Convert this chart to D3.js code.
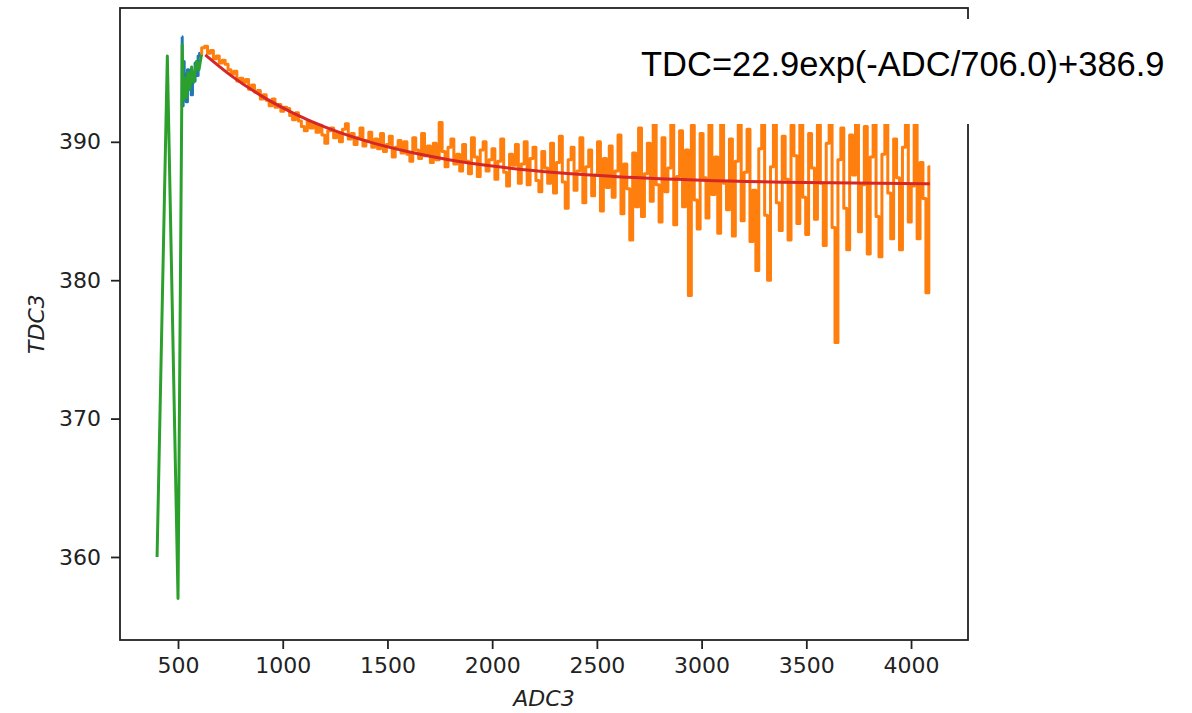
<!DOCTYPE html>
<html>
<head>
<meta charset="utf-8">
<script src="https://cdn.jsdelivr.net/npm/d3@7"></script>
<style>
  body { margin: 0; background: #fff; }
  svg { display: block; }
</style>
</head>
<body>
<svg id="chart"></svg>
<script>
// tick labels
const xTicks = [500, 1000, 1500, 2000, 2500, 3000, 3500, 4000];
const yTicks = [360, 370, 380, 390];

// green series (coarse profile at low ADC)
const greenAdc = [400, 449, 500, 520, 525, 533, 540, 548, 556, 565, 575, 588, 600, 612];
const greenTdc = [360.0, 396.2, 357.0, 397.0, 393.0, 394.6, 393.2, 395.0, 393.8, 395.4, 394.3, 395.8, 395.2, 396.3];

// blue series (short piece under the green one)
const blueAdc = [518, 522, 527, 532, 537, 542, 548, 554, 560, 566, 572, 578, 585, 592, 600, 606];
const blueTdc = [397.6, 392.6, 395.8, 393.0, 394.9, 392.9, 395.2, 393.8, 395.1, 393.4, 395.0, 394.4, 395.7, 394.8, 396.2, 396.4];

// orange series: mean TDC per ADC bin, bins start at 606, width 14
const orangeStart = 606, orangeStep = 14;
const orangeTdc = [
  396.3, 396.8, 396.9, 396.4, 396.6, 396.0, 396.2, 395.7, 395.9, 395.6,
  395.2, 394.9, 395.1, 394.4, 394.6, 394.3, 394.5, 393.8, 394.1, 393.6,
  393.7, 393.1, 393.4, 393.0, 392.6, 393.1, 392.5, 392.7, 392.2, 392.5,
  392.4, 391.9, 391.6, 392.1, 391.5, 391.1, 390.8, 391.5, 391.0, 391.3,
  390.7, 391.2, 390.5, 389.9, 390.8, 391.0, 390.3, 390.6, 390.0, 390.9,
  391.3, 390.2, 390.6, 389.8, 390.3, 391.0, 389.7, 390.1, 390.7, 389.6,
  390.2, 389.5, 390.6, 389.3, 389.8, 390.4, 388.9, 389.6, 390.1, 389.2,
  390.0, 389.1, 388.6, 390.3, 389.4, 388.8, 390.6, 389.0, 389.7, 388.5,
  389.9, 388.7, 391.4, 389.3, 388.2, 389.6, 390.2, 388.4, 389.1, 387.9,
  389.8, 388.6, 387.7, 390.3, 388.9, 387.5, 389.4, 390.0, 387.9, 388.7,
  389.5, 387.3, 388.6, 390.2, 387.8, 386.8, 389.1, 388.3, 389.8, 387.0,
  388.4, 390.0, 386.9, 388.8, 389.6, 387.2, 386.4, 389.3, 388.1, 387.0,
  389.9, 386.3, 388.5, 390.4, 387.1, 385.2, 388.7, 389.6, 386.5, 387.9,
  390.3, 385.6, 388.2, 389.4, 386.1, 387.6, 390.0, 385.0, 388.8, 386.7,
  389.7, 386.0, 387.9, 390.5, 384.8, 388.4, 386.6, 382.9, 389.2, 385.3,
  391.0, 384.6, 387.7, 389.9, 385.7, 391.5, 386.9, 384.2, 390.3, 386.4,
  388.1, 391.4, 384.0, 387.5, 390.8, 385.3, 389.4, 378.9, 391.2, 385.8,
  383.7, 390.6, 387.4, 384.5, 392.0, 386.2, 388.9, 383.4, 391.3, 387.0,
  385.1, 390.2, 383.2, 388.6, 391.8, 384.3, 387.8, 390.9, 382.8, 386.5,
  380.7, 389.5, 391.6, 384.7, 380.0, 388.2, 391.9, 385.6, 383.6, 390.4,
  387.3, 382.9, 391.2, 389.0, 384.1, 392.1, 386.0, 383.3, 390.6, 388.1,
  384.4, 391.5, 387.0, 382.5, 389.9, 392.0, 383.8, 375.5, 388.7, 391.0,
  385.2, 382.2, 390.5, 387.6, 392.4, 383.5, 386.9, 391.1, 381.9, 388.9,
  391.7, 384.6, 381.7, 389.1, 392.1, 386.3, 383.0, 390.2, 387.4, 382.2,
  389.6, 392.3, 384.2, 386.8, 391.4, 383.0, 388.5, 385.9, 379.1, 388.2
];

// red fit curve
const fitAdc = [630, 750, 900, 1050, 1200, 1400, 1600, 1800, 2000, 2300, 2600, 3000, 3500, 4090];
const fitTdc = [396.28, 394.82, 393.30, 392.08, 391.08, 390.05, 389.28, 388.69, 388.25, 387.78, 387.48, 387.23, 387.06, 386.97];

const fitLabel = "TDC=22.9exp(-ADC/706.0)+386.9";

// Set up dimensions
const margin = {top: 8, right: 224, bottom: 73, left: 120},
      width = 1192 - margin.left - margin.right,
      height = 713 - margin.top - margin.bottom;

const root = d3.select("#chart")
    .attr("width", 1192)
    .attr("height", 713);

const svg = root.append("g")
    .attr("transform", `translate(${margin.left},${margin.top})`);

// Scales
const x = d3.scaleLinear()
    .domain([223, 4272])
    .range([0, width]);

const y = d3.scaleLinear()
    .domain([354.0, 399.67])
    .range([height, 0]);

const pairs = (xs, ys) => xs.map((v, i) => [v, ys[i]]);
const orangeAdc = d3.range(orangeTdc.length).map(i => orangeStart + i * orangeStep);

const lineOf = curve => d3.line()
    .x(d => x(d[0]))
    .y(d => y(d[1]))
    .curve(curve);

const series = [
    {pts: pairs(blueAdc, blueTdc), color: "#1f77b4", w: 3, curve: d3.curveStep},
    {pts: pairs(orangeAdc, orangeTdc), color: "#ff7f0e", w: 3, curve: d3.curveStep},
    {pts: pairs(greenAdc, greenTdc), color: "#2ca02c", w: 3, curve: d3.curveLinear}
];

svg.selectAll("path.series")
    .data(series)
    .join("path")
    .attr("class", "series")
    .attr("fill", "none")
    .attr("stroke", d => d.color)
    .attr("stroke-width", d => d.w)
    .attr("stroke-linejoin", "round")
    .attr("d", d => lineOf(d.curve)(d.pts));

// Fit curve
svg.append("path")
    .attr("fill", "none")
    .attr("stroke", "#d62728")
    .attr("stroke-width", 3)
    .attr("d", lineOf(d3.curveMonotoneX)(pairs(fitAdc, fitTdc)));

// Axes
const xAxis = svg.append("g")
    .attr("transform", `translate(0,${height})`)
    .call(d3.axisBottom(x).tickValues(xTicks).tickFormat(d3.format("d"))
        .tickSize(9).tickPadding(8).tickSizeOuter(0));

const yAxis = svg.append("g")
    .call(d3.axisLeft(y).tickValues(yTicks).tickFormat(d3.format("d"))
        .tickSize(9).tickPadding(10).tickSizeOuter(0));

[xAxis, yAxis].forEach(g => {
    g.select(".domain").remove();
    g.selectAll("line").attr("stroke", "#222").attr("stroke-width", 1.8);
    g.selectAll("text")
        .attr("fill", "#222")
        .style("font-family", "DejaVu Sans")
        .style("font-size", "22px");
});

// frame
svg.append("rect")
    .attr("width", width)
    .attr("height", height)
    .attr("fill", "none")
    .attr("stroke", "#222")
    .attr("stroke-width", 1.8);

// Labels
svg.append("text")
    .attr("x", width / 2)
    .attr("y", height + 66)
    .attr("text-anchor", "middle")
    .style("font-family", "DejaVu Sans")
    .style("font-style", "italic")
    .style("font-size", "22px")
    .attr("fill", "#222")
    .text("ADC3");

svg.append("text")
    .attr("x", -height / 2)
    .attr("y", -76)
    .attr("transform", "rotate(-90)")
    .attr("text-anchor", "middle")
    .style("font-family", "DejaVu Sans")
    .style("font-style", "italic")
    .style("font-size", "22px")
    .attr("fill", "#222")
    .text("TDC3");

// Annotation box over the top right corner
root.append("rect")
    .attr("x", 630)
    .attr("y", 19)
    .attr("width", 1192 - 630)
    .attr("height", 105)
    .attr("fill", "#fff");

root.append("text")
    .attr("x", 641)
    .attr("y", 76)
    .style("font-family", "Liberation Sans, Arial, sans-serif")
    .style("font-size", "34.5px")
    .attr("fill", "#000")
    .text(fitLabel);
</script>
</body>
</html>
